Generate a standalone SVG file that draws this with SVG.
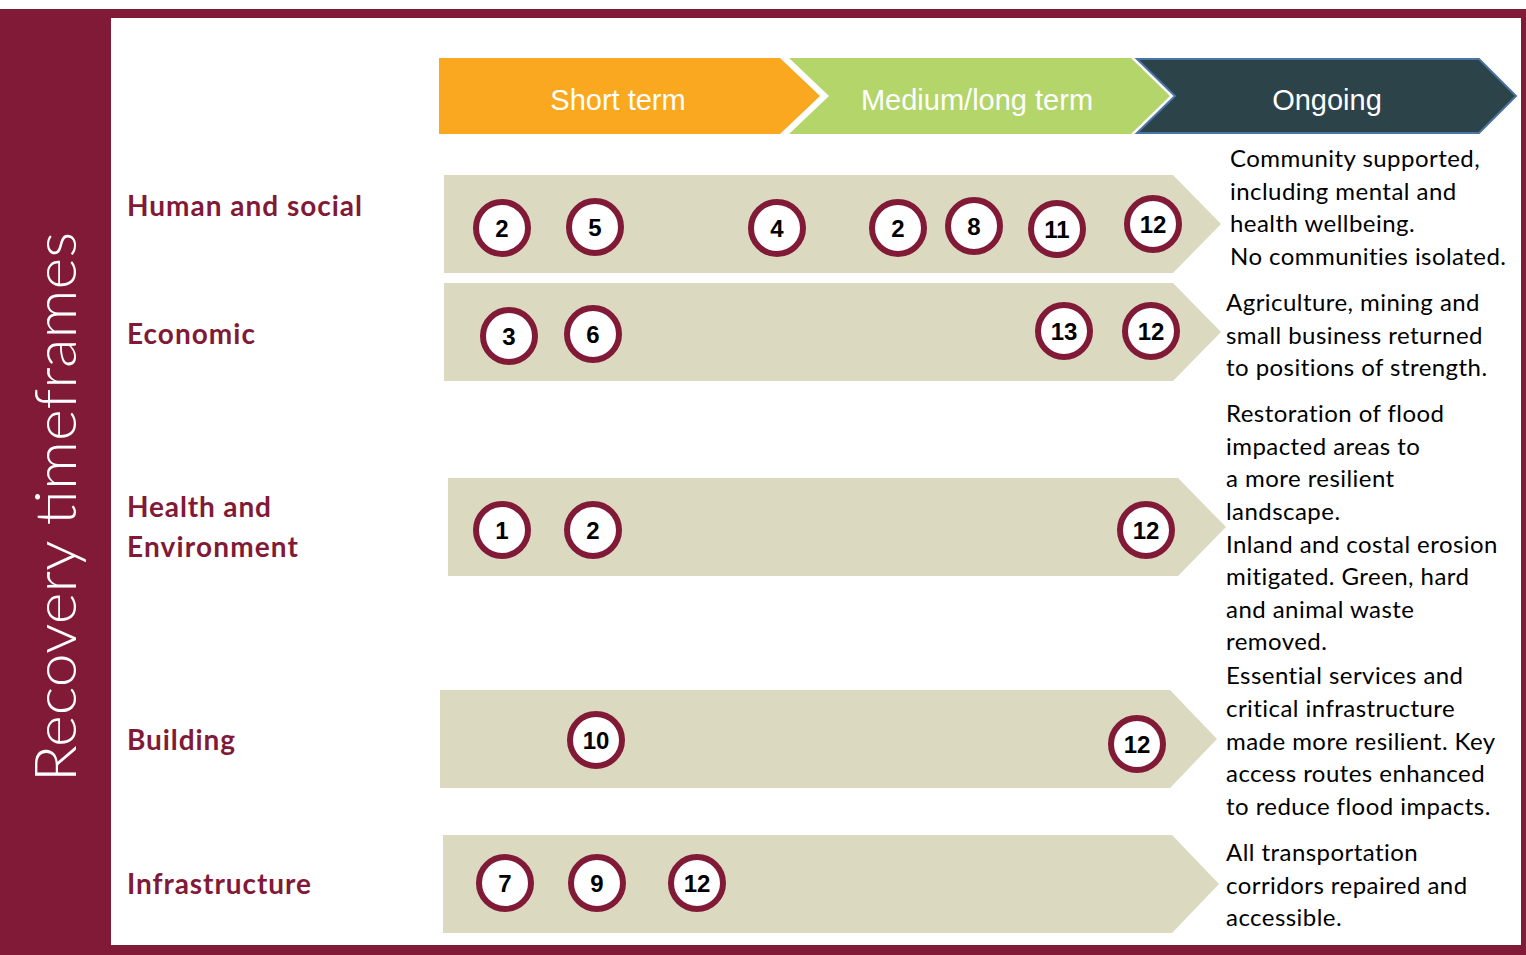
<svg xmlns="http://www.w3.org/2000/svg" width="1526" height="955" viewBox="0 0 1526 955">
<style>
.band{fill:#DCD9C1}
.c circle{fill:#fff;stroke:#811A37;stroke-width:6}
.c text{font-family:"Liberation Sans",Arial,sans-serif;font-weight:bold;font-size:24px;fill:#000;text-anchor:middle}
.lbl{font-family:Lato,"Liberation Sans",sans-serif;font-weight:bold;font-size:28px;fill:#811A37}
.desc{font-family:Lato,"Open Sans","Liberation Sans",sans-serif;font-size:24px;letter-spacing:0.45px;fill:#000}
.hdr{font-family:"Liberation Sans",Arial,sans-serif;font-size:29px;fill:#fff;text-anchor:middle}
</style>
<rect x="0" y="0" width="1526" height="955" fill="#fff"/>
<rect x="0" y="9" width="1526" height="946" fill="#811A37"/>
<rect x="111" y="18" width="1410" height="927" fill="#fff"/>
<text x="0" y="0" transform="translate(76,507) rotate(-90)" text-anchor="middle" font-family="Lato,'Open Sans',sans-serif" font-weight="300" font-size="58" fill="#fff" textLength="550" lengthAdjust="spacingAndGlyphs">Recovery timeframes</text>

<g id="headers">
<g id="short-term"><polygon points="439,58 780,58 820,96 780,134 439,134" fill="#F9A81F"/><text class="hdr" x="618" y="110">Short term</text></g>
<g id="medium-term"><polygon points="789,58 1131,58 1170,96 1131,134 789,134 829,96" fill="#B3D56A"/><text class="hdr" x="977" y="110">Medium/long term</text></g>
<g id="ongoing"><polygon points="1137,59 1479,59 1516,96 1479,133 1137,133 1175,96" fill="#2C4349" stroke="#4A75A2" stroke-width="2"/><text class="hdr" x="1327" y="110">Ongoing</text></g>
</g>

<g id="row-human">
<text class="lbl" x="127" y="216" textLength="235" lengthAdjust="spacing">Human and social</text>
<polygon class="band" points="444,175 1173,175 1221,224 1173,273 444,273"/>
<g class="c"><circle cx="502" cy="228" r="26"/><text x="502" y="237">2</text></g>
<g class="c"><circle cx="595" cy="227" r="26"/><text x="595" y="236">5</text></g>
<g class="c"><circle cx="777" cy="228" r="26"/><text x="777" y="237">4</text></g>
<g class="c"><circle cx="898" cy="228" r="26"/><text x="898" y="237">2</text></g>
<g class="c"><circle cx="974" cy="226" r="26"/><text x="974" y="235">8</text></g>
<g class="c"><circle cx="1057" cy="229" r="26"/><text x="1057" y="238">11</text></g>
<g class="c"><circle cx="1153" cy="224" r="26"/><text x="1153" y="233">12</text></g>
<text class="desc" x="1230" y="167">Community supported,</text>
<text class="desc" x="1230" y="200">including mental and</text>
<text class="desc" x="1230" y="232">health wellbeing.</text>
<text class="desc" x="1230" y="265">No communities isolated.</text>
</g>

<g id="row-economic">
<text class="lbl" x="127" y="344" textLength="128" lengthAdjust="spacing">Economic</text>
<polygon class="band" points="444,283 1173,283 1221,332 1173,381 444,381"/>
<g class="c"><circle cx="509" cy="336" r="26"/><text x="509" y="345">3</text></g>
<g class="c"><circle cx="593" cy="334" r="26"/><text x="593" y="343">6</text></g>
<g class="c"><circle cx="1064" cy="331" r="26"/><text x="1064" y="340">13</text></g>
<g class="c"><circle cx="1151" cy="331" r="26"/><text x="1151" y="340">12</text></g>
<text class="desc" x="1226" y="311">Agriculture, mining and</text>
<text class="desc" x="1226" y="344">small business returned</text>
<text class="desc" x="1226" y="376">to positions of strength.</text>
</g>

<g id="row-health">
<text class="lbl" x="127" y="517" textLength="144" lengthAdjust="spacing">Health and</text>
<text class="lbl" x="127" y="557" textLength="171" lengthAdjust="spacing">Environment</text>
<polygon class="band" points="448,478 1178,478 1226,527 1178,576 448,576"/>
<g class="c"><circle cx="502" cy="530" r="26"/><text x="502" y="539">1</text></g>
<g class="c"><circle cx="593" cy="530" r="26"/><text x="593" y="539">2</text></g>
<g class="c"><circle cx="1146" cy="530" r="26"/><text x="1146" y="539">12</text></g>
<text class="desc" x="1226" y="422">Restoration of flood</text>
<text class="desc" x="1226" y="455">impacted areas to</text>
<text class="desc" x="1226" y="487">a more resilient</text>
<text class="desc" x="1226" y="520">landscape.</text>
<text class="desc" x="1226" y="553">Inland and costal erosion</text>
<text class="desc" x="1226" y="585">mitigated. Green, hard</text>
<text class="desc" x="1226" y="618">and animal waste</text>
<text class="desc" x="1226" y="650">removed.</text>
</g>

<g id="row-building">
<text class="lbl" x="127" y="750" textLength="108" lengthAdjust="spacing">Building</text>
<polygon class="band" points="440,690 1170,690 1217,739 1170,788 440,788"/>
<g class="c"><circle cx="596" cy="740" r="26"/><text x="596" y="749">10</text></g>
<g class="c"><circle cx="1137" cy="744" r="26"/><text x="1137" y="753">12</text></g>
<text class="desc" x="1226" y="684">Essential services and</text>
<text class="desc" x="1226" y="717">critical infrastructure</text>
<text class="desc" x="1226" y="750">made more resilient. Key</text>
<text class="desc" x="1226" y="782">access routes enhanced</text>
<text class="desc" x="1226" y="815">to reduce flood impacts.</text>
</g>

<g id="row-infrastructure">
<text class="lbl" x="127" y="894" textLength="184" lengthAdjust="spacing">Infrastructure</text>
<polygon class="band" points="443,835 1172,835 1219,884 1172,933 443,933"/>
<g class="c"><circle cx="505" cy="883" r="26"/><text x="505" y="892">7</text></g>
<g class="c"><circle cx="597" cy="883" r="26"/><text x="597" y="892">9</text></g>
<g class="c"><circle cx="697" cy="883" r="26"/><text x="697" y="892">12</text></g>
<text class="desc" x="1226" y="861">All transportation</text>
<text class="desc" x="1226" y="894">corridors repaired and</text>
<text class="desc" x="1226" y="926">accessible.</text>
</g>
<g id="connectors"/>
</svg>
